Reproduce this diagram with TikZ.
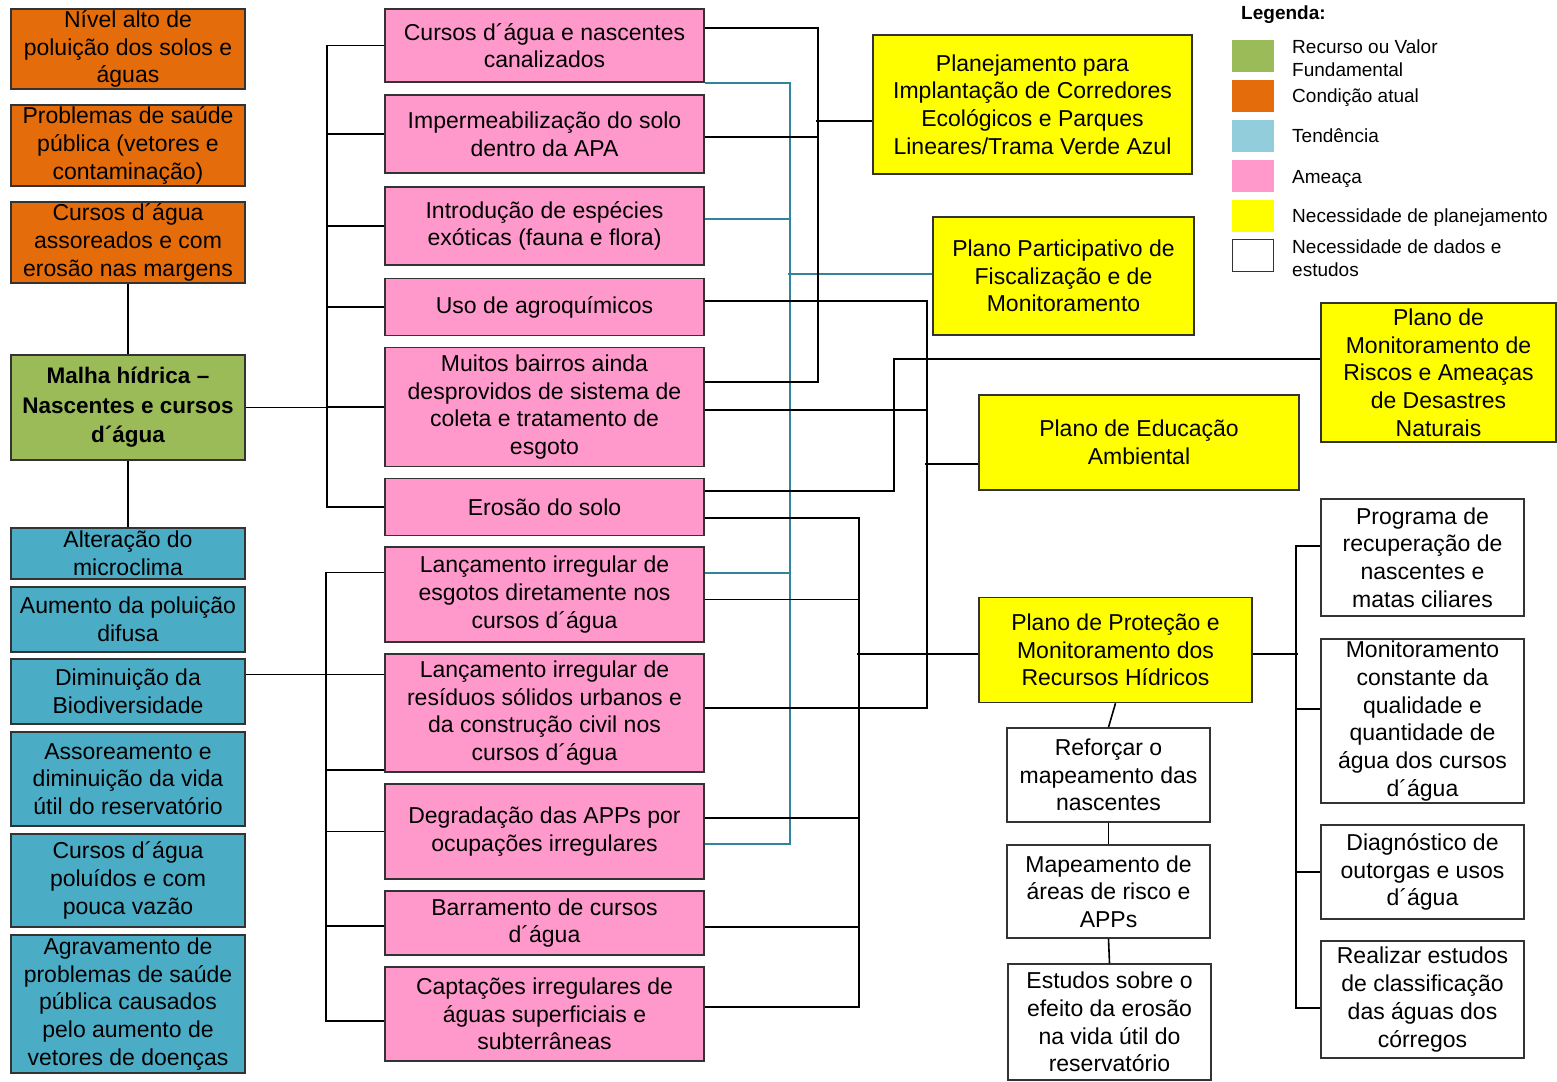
\documentclass[tikz,border=0pt]{standalone}
\usepackage{fontspec}
\setmainfont{Liberation Sans}
\definecolor{cOrange}{HTML}{E46C0A}
\definecolor{cGreen}{HTML}{9BBB59}
\definecolor{cBlue}{HTML}{4BACC6}
\definecolor{cLBlue}{HTML}{92CDDC}
\definecolor{cPink}{HTML}{FF99CC}
\definecolor{cYellow}{HTML}{FFFF00}
\definecolor{cLine}{HTML}{31849B}
\tikzset{
  box/.style={draw=black!80, line width=1.5pt, align=center, inner sep=0pt,
    font=\fontsize{23}{27.7}\selectfont, text=black},
  orbox/.style={box, fill=cOrange},
  grbox/.style={box, fill=cGreen},
  blbox/.style={box, fill=cBlue},
  pkbox/.style={box, fill=cPink},
  ylbox/.style={box, fill=cYellow},
  whbox/.style={box, fill=white},
  conn/.style={draw=black, line width=1.6pt},
  bconn/.style={draw=cLine, line width=1.6pt},
  swatch/.style={minimum width=42pt, minimum height=32pt, inner sep=0pt},
  legtext/.style={anchor=west, align=left, inner sep=0pt,
    font=\fontsize{19}{23}\selectfont, text=black}
}
\begin{document}
\begin{tikzpicture}[x=1pt,y=-1pt]
\useasboundingbox (0,0) rectangle (1557,1081);
\fill[white] (0,0) rectangle (1557,1081);

% left column
\node[orbox, minimum width=234pt, minimum height=80pt] (n1) at (128,49) {Nível alto de\\poluição dos solos e\\águas};
\node[orbox, minimum width=234pt, minimum height=81pt] (n2) at (128,145.5) {Problemas de saúde\\pública (vetores e\\contaminação)};
\node[orbox, minimum width=234pt, minimum height=81pt] (n3) at (128,242.5) {Cursos d´água\\assoreados e com\\erosão nas margens};
\node[grbox, minimum width=234pt, minimum height=105pt, font=\fontsize{22.5}{29.5}\selectfont\bfseries] (malha) at (128,407.5) {Malha hídrica –\\Nascentes e cursos\\d´água};
\node[blbox, minimum width=234pt, minimum height=51pt] (t1) at (128,553.5) {Alteração do\\microclima};
\node[blbox, minimum width=234pt, minimum height=65pt] (t2) at (128,619.5) {Aumento da poluição\\difusa};
\node[blbox, minimum width=234pt, minimum height=65pt] (t3) at (128,691.5) {Diminuição da\\Biodiversidade};
\node[blbox, minimum width=234pt, minimum height=94pt] (t4) at (128,779) {Assoreamento e\\diminuição da vida\\útil do reservatório};
\node[blbox, minimum width=234pt, minimum height=93pt] (t5) at (128,880.5) {Cursos d´água\\poluídos e com\\pouca vazão};
\node[blbox, minimum width=234pt, minimum height=138pt] (t6) at (128,1004) {Agravamento de\\problemas de saúde\\pública causados\\pelo aumento de\\vetores de doenças};

% middle column
\node[pkbox, minimum width=319pt, minimum height=73pt] (a1) at (544.5,45.5) {Cursos d´água e nascentes\\canalizados};
\node[pkbox, minimum width=319pt, minimum height=78pt] (a2) at (544.5,134) {Impermeabilização do solo\\dentro da APA};
\node[pkbox, minimum width=319pt, minimum height=78pt] (a3) at (544.5,226) {Introdução de espécies\\exóticas (fauna e flora)};
\node[pkbox, minimum width=319pt, minimum height=57pt] (a4) at (544.5,307) {Uso de agroquímicos};
\node[pkbox, minimum width=319pt, minimum height=119pt] (a5) at (544.5,407) {Muitos bairros ainda\\desprovidos de sistema de\\coleta e tratamento de\\esgoto};
\node[pkbox, minimum width=319pt, minimum height=57pt] (a6) at (544.5,507) {Erosão do solo};
\node[pkbox, minimum width=319pt, minimum height=95pt] (a7) at (544.5,594.5) {Lançamento irregular de\\esgotos diretamente nos\\cursos d´água};
\node[pkbox, minimum width=319pt, minimum height=118pt] (a8) at (544.5,713) {Lançamento irregular de\\resíduos sólidos urbanos e\\da construção civil nos\\cursos d´água};
\node[pkbox, minimum width=319pt, minimum height=95pt] (a9) at (544.5,831.5) {Degradação das APPs por\\ocupações irregulares};
\node[pkbox, minimum width=319pt, minimum height=64pt] (a10) at (544.5,923) {Barramento de cursos\\d´água};
\node[pkbox, minimum width=319pt, minimum height=94pt] (a11) at (544.5,1014) {Captações irregulares de\\águas superficiais e\\subterrâneas};

% plans
\node[ylbox, minimum width=319pt, minimum height=139pt] (p1) at (1032.5,104.5) {Planejamento para\\Implantação de Corredores\\Ecológicos e Parques\\Lineares/Trama Verde Azul};
\node[ylbox, minimum width=261pt, minimum height=118pt] (p2) at (1063.5,276) {Plano Participativo de\\Fiscalização e de\\Monitoramento};
\node[ylbox, minimum width=235pt, minimum height=139pt] (p3) at (1438.5,372.5) {Plano de\\Monitoramento de\\Riscos e Ameaças\\de Desastres\\Naturais};
\node[ylbox, minimum width=320pt, minimum height=95pt] (p4) at (1139,442.5) {Plano de Educação\\Ambiental};
\node[ylbox, minimum width=273pt, minimum height=105pt] (p5) at (1115.5,650) {Plano de Proteção e\\Monitoramento dos\\Recursos Hídricos};

% data / studies
\node[whbox, minimum width=203pt, minimum height=94pt] (w1) at (1108.5,775) {Reforçar o\\mapeamento das\\nascentes};
\node[whbox, minimum width=203pt, minimum height=93pt] (w2) at (1108.5,891.5) {Mapeamento de\\áreas de risco e\\APPs};
\node[whbox, minimum width=203pt, minimum height=116pt] (w3) at (1109.5,1022) {Estudos sobre o\\efeito da erosão\\na vida útil do\\reservatório};
\node[whbox, minimum width=203pt, minimum height=117pt] (w4) at (1422.5,557.5) {Programa de\\recuperação de\\nascentes e\\matas ciliares};
\node[whbox, minimum width=203pt, minimum height=164pt] (w5) at (1422.5,721) {Monitoramento\\constante da\\qualidade e\\quantidade de\\água dos cursos\\d´água};
\node[whbox, minimum width=203pt, minimum height=94pt] (w6) at (1422.5,872) {Diagnóstico de\\outorgas e usos\\d´água};
\node[whbox, minimum width=203pt, minimum height=117pt] (w7) at (1422.5,999.5) {Realizar estudos\\de classificação\\das águas dos\\córregos};

% legend
\node[anchor=west, inner sep=0pt, font=\fontsize{19}{23}\selectfont\bfseries, text=black] (legtitle) at (1241,15) {Legenda:};
\node[swatch, fill=cGreen] (s1) at (1253,56) {};
\node[swatch, fill=cOrange] (s2) at (1253,96) {};
\node[swatch, fill=cLBlue] (s3) at (1253,136) {};
\node[swatch, fill=cPink] (s4) at (1253,176) {};
\node[swatch, fill=cYellow] (s5) at (1253,216) {};
\node[swatch, draw=black!80, line width=1.3pt, minimum width=41pt] (s6) at (1253,255.5) {};
\node[legtext] (l1) at (1292,58) {Recurso ou Valor\\Fundamental};
\node[legtext] (l2) at (1292,98) {Condição atual};
\node[legtext] (l3) at (1292,136) {Tendência};
\node[legtext] (l4) at (1292,179) {Ameaça};
\node[legtext] (l5) at (1292,218) {Necessidade de planejamento};
\node[legtext] (l6) at (1292,258) {Necessidade de dados e\\estudos};

% coordinates for trunks
\coordinate (L1) at (327,0);

% left vertical links
\draw[conn] (n3.south) -- (malha.north);
\draw[conn] (malha.south) -- (t1.north);

% upper left trunk
\draw[conn] (malha.east) -- (malha.east -| L1);
\draw[conn] (a1.west) -| (L1 |- a6.west) -- (a6.west);
\foreach \n in {a2,a3,a4,a5} \draw[conn] (\n.west) -- (\n.west -| L1);

% lower left trunk
\coordinate (d1) at ([yshift=17pt]t3.east);
\draw[conn] (d1) -- (d1 -| a8.west);
\draw[conn] ([yshift=22pt]a7.west) -- ++(-58,0) |- ([yshift=-7pt]a11.west);
\draw[conn] ([yshift=-57pt]a8.west) -- ++(-58,0);
\draw[conn] (a9.west) -- ++(-58,0);
\draw[conn] ([yshift=-3pt]a10.west) -- ++(-58,0);

% blue bracket (Participativo)
\draw[bconn] (a1.south east) -- ++(85,0) |- ([yshift=-12.5pt]a9.east);
\draw[bconn] ([yshift=7pt]a3.east) -- ++(85,0);
\draw[bconn] ([yshift=21.5pt]a7.east) -- ++(85,0);
\draw[bconn] ([yshift=2pt]p2.west) -- ++(-144,0);

% bracket Planejamento (x=817)
\draw[conn] ([yshift=17.5pt]a1.east) -- ++(113,0) |- ([yshift=25pt]a5.east);
\draw[conn] ([yshift=-3pt]a2.east) -- ++(113,0);
\draw[conn] ([yshift=-16.5pt]p1.west) -- ++(-56,0);

% bracket Educacao (x=926)
\draw[conn] ([yshift=6pt]a4.east) -- ++(222,0) |- ([yshift=5pt]a8.east);
\draw[conn] ([yshift=-3pt]a5.east) -- ++(222,0);
\draw[conn] ([yshift=-21.5pt]p4.west) -- ++(-53,0);

% bracket Riscos (x=893)
\draw[conn] ([yshift=16pt]a6.east) -- ++(189,0) |- ([yshift=13.5pt]p3.west);

% bracket Protecao (x=858)
\draw[conn] ([yshift=-11pt]a6.east) -- ++(154,0) |- ([yshift=7pt]a11.east);
\draw[conn] ([yshift=-5pt]a7.east) -- ++(154,0);
\draw[conn] ([yshift=13.5pt]a9.east) -- ++(154,0);
\draw[conn] ([yshift=-4pt]a10.east) -- ++(154,0);
\draw[conn] ([yshift=-4pt]p5.west) -- ++(-121,0);

% right trunk (x=1297)
\draw[conn] ([yshift=-4pt]p5.east) -- ++(45,0);
\draw[conn] ([yshift=11.5pt]w4.west) -- ++(-24,0) |- ([yshift=-8.5pt]w7.west);
\draw[conn] ([yshift=12pt]w5.west) -- ++(-24,0);
\draw[conn] (w6.west) -- ++(-24,0);

% vertical chain
\draw[conn] (p5.south) -- (w1.north);
\draw[conn] (w1.south) -- (w2.north);
\draw[conn] (w2.south) -- (w3.north);
\end{tikzpicture}
\end{document}
